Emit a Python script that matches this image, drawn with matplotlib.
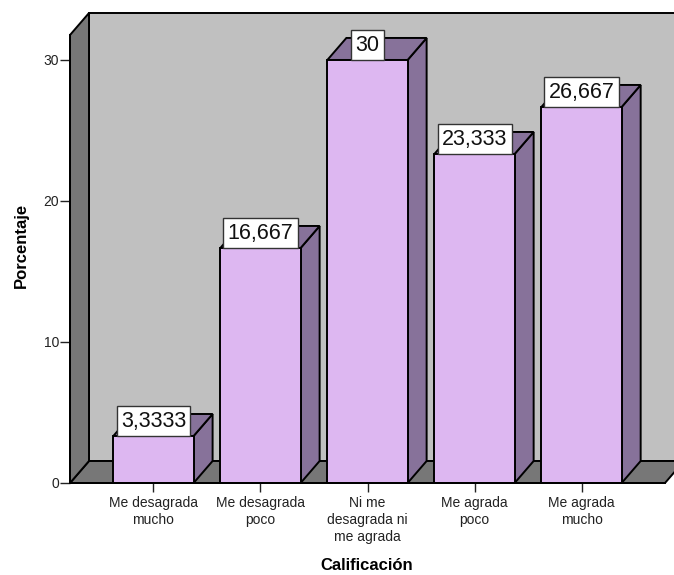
import matplotlib

matplotlib.use("Agg")
import matplotlib.pyplot as plt
from matplotlib.patches import Polygon

plt.rcParams["font.family"] = ["Liberation Sans", "DejaVu Sans"]

categories = [
    "Me desagrada\nmucho",
    "Me desagrada\npoco",
    "Ni me\ndesagrada ni\nme agrada",
    "Me agrada\npoco",
    "Me agrada\nmucho",
]
percentages = [3.3333, 16.667, 30.0, 23.333, 26.667]
y_ticks = [0, 10, 20, 30]

WALL_BACK = "#C0C0C0"
WALL_SIDE = "#777777"
BAR_FRONT = "#DDB7F1"
BAR_SHADE = "#87729A"

fig = plt.figure(figsize=(6.74, 5.75), dpi=100)
ax = fig.add_axes([70 / 674, 92 / 575, 595 / 674, 448 / 575])
ax.patch.set_visible(False)

xmin, xmax = -0.78, 4.78
ymin, ymax = 0.0, 31.77
ax.set_xlim(xmin, xmax)
ax.set_ylim(ymin, ymax)

# depth of the 3D box, 19 px right and 22 px up, in data units
dx = 19 / (595 / (xmax - xmin))
dy = 22 / (448 / (ymax - ymin))

def poly(pts, color, z):
    p = Polygon(pts, closed=True, facecolor=color, edgecolor="black",
                linewidth=1.4, zorder=z, clip_on=False, joinstyle="miter")
    ax.add_patch(p)

# back wall, floor and left wall
poly([(xmin + dx, dy), (xmax + dx, dy), (xmax + dx, ymax + dy), (xmin + dx, ymax + dy)], WALL_BACK, 0.5)
poly([(xmin, 0), (xmax, 0), (xmax + dx, dy), (xmin + dx, dy)], WALL_SIDE, 0.6)
poly([(xmin, 0), (xmin, ymax), (xmin + dx, ymax + dy), (xmin + dx, dy)], WALL_SIDE, 0.7)

w = 0.75
xs = list(range(len(categories)))
for i, v in zip(xs, percentages):
    r = i + w / 2
    l = i - w / 2
    poly([(r, 0), (r + dx, dy), (r + dx, v + dy), (r, v)], BAR_SHADE, 2)
    poly([(l, v), (r, v), (r + dx, v + dy), (l + dx, v + dy)], BAR_SHADE, 2)

ax.bar(xs, percentages, width=w, color=BAR_FRONT, edgecolor="black",
       linewidth=1.4, zorder=3, clip_on=False)

for i, v in zip(xs, percentages):
    txt = f"{v:.5g}".replace(".", ",")
    ax.annotate(txt, xy=(i, v), xytext=(0, 3.2), textcoords="offset points",
                ha="center", va="bottom", fontsize=15.5, color="#111111",
                bbox=dict(boxstyle="square,pad=0.2", facecolor="white",
                          edgecolor="#333333", linewidth=1.0),
                zorder=5, annotation_clip=False)

for side in ("top", "right"):
    ax.spines[side].set_visible(False)
for side in ("left", "bottom"):
    ax.spines[side].set_color("black")
    ax.spines[side].set_linewidth(1.4)
    ax.spines[side].set_zorder(4)

ax.set_yticks(y_ticks)
ax.set_xticks(xs)
ax.set_xticklabels(categories, linespacing=1.25)
ax.tick_params(axis="y", length=7, width=1.0, pad=1, labelsize=10, colors="#222222")
ax.tick_params(axis="x", length=6.5, width=1.0, pad=3, labelsize=10, colors="#222222")

ax.set_ylabel("Porcentaje", fontsize=12, fontweight="bold")
ax.yaxis.set_label_coords(-0.082, 0.53)
ax.yaxis.label.set(va="center", ha="center", rotation_mode="default")
ax.set_xlabel("Calificación", fontsize=12, fontweight="bold")
ax.xaxis.set_label_coords(0.499, -0.185)
ax.xaxis.label.set(va="center")

fig.savefig("out.png", dpi=100, facecolor="white")
